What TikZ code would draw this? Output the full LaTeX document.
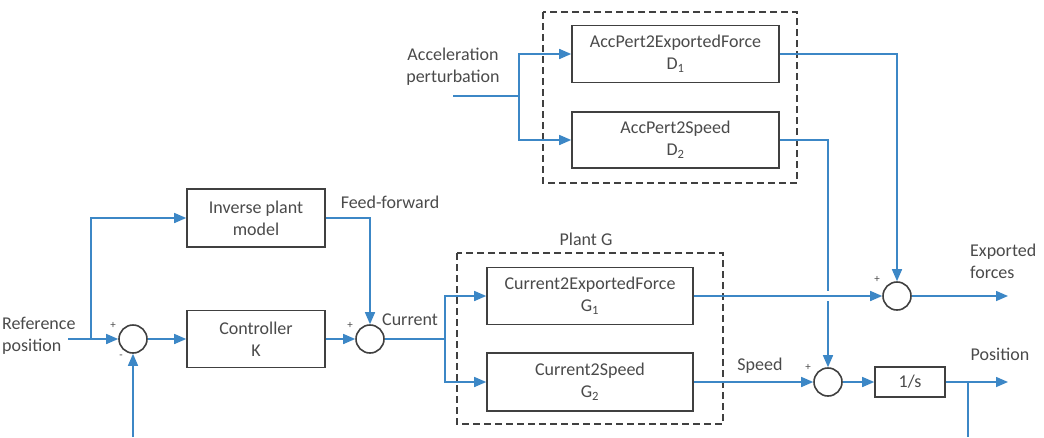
\documentclass[tikz,border=0pt]{standalone}
\usepackage{fontspec}
\setmainfont{Carlito}
\usetikzlibrary{arrows.meta,positioning,calc}
\definecolor{lblue}{HTML}{3C87C6}
\definecolor{bgray}{HTML}{404040}
\definecolor{tgray}{HTML}{4A4A4A}
\begin{document}
\begin{tikzpicture}[x=1pt,y=-1pt,
  txt/.style={text=tgray,font=\fontsize{18}{22}\selectfont,inner sep=0pt,align=center},
  sgn/.style={text=tgray,font=\fontsize{11}{12}\selectfont,inner sep=0pt},
  blk/.style={draw=bgray,line width=1.6pt,fill=white,inner sep=0pt,align=center,text=tgray,font=\fontsize{18}{22}\selectfont},
  sumc/.style={draw=bgray,line width=1.6pt,circle,minimum size=28pt,inner sep=0pt},
  grp/.style={draw=bgray,line width=1.6pt,dash pattern=on 7pt off 4pt},
  sig/.style={draw=lblue,line width=1.5pt,-{Triangle[length=12pt,width=10pt]}},
  wire/.style={draw=lblue,line width=1.5pt},
]
\useasboundingbox (0,0) rectangle (1044,437);
% group boxes
\draw[grp] (543,12) rectangle (797,183);
\draw[grp] (457,253) rectangle (723,424);
\node[txt] (plantlbl) at (586,239) {Plant G};
% blocks
\node[blk,minimum width=138pt,minimum height=58pt] (inv) at (256,218) {Inverse plant\\model};
\node[blk,minimum width=138pt,minimum height=57pt] (ctrl) at (256,339) {Controller\\K};
\node[blk,minimum width=206pt,minimum height=57pt] (g1) at (590,296) {Current2ExportedForce\\G\textsubscript{1}};
\node[blk,minimum width=206pt,minimum height=58pt] (g2) at (590,382) {Current2Speed\\G\textsubscript{2}};
\node[blk,minimum width=207pt,minimum height=57pt] (d1) at (675.5,54) {AccPert2ExportedForce\\D\textsubscript{1}};
\node[blk,minimum width=207pt,minimum height=56pt] (d2) at (675.5,140) {AccPert2Speed\\D\textsubscript{2}};
\node[blk,minimum width=70pt,minimum height=30pt] (int) at (910,382) {1/s};
% sums
\node[sumc] (s1) at (133,339) {};
\node[sumc] (s2) at (370,339) {};
\node[sumc] (s3) at (897,296) {};
\node[sumc] (s4) at (828,382) {};
% coordinates
\coordinate (refin) at (68,339);
\coordinate (br1) at (91,339);
\coordinate (br2) at (445,339);
\coordinate (accin) at (453,96);
\coordinate (br3) at (519,96);
\coordinate (out1) at (1008,296);
\coordinate (out2) at (1008,382);
\coordinate (br4) at (968,382);
\coordinate (fb4) at (968,437);
\coordinate (fb1) at (133,437);
% labels
\node[txt,anchor=west,align=left] (reflbl) at (2,336) {Reference\\position};
\node[txt] (fflbl) at (390,202) {Feed-forward};
\node[txt] (curlbl) at (410,320) {Current};
\node[txt] (acclbl) at (453,66.5) {Acceleration\\perturbation};
\node[txt,anchor=west,align=left] (explbl) at (970,261) {Exported\\forces};
\node[txt] (spdlbl) at (760,366) {Speed};
\node[txt] (poslbl) at (1000,354) {Position};
\node[sgn] (p1) at (113,325) {+};
\node[sgn] (m1) at (121,357) {-};
\node[sgn] (p2) at (350,325) {+};
\node[sgn] (p3) at (877,279) {+};
\node[sgn] (p4) at (808,367) {+};
% connectors
\draw[sig] (refin) -- (s1.west);
\draw[sig] (br1) |- (inv.west);
\draw[sig] (fb1) -- (s1.south);
\draw[sig] (s1.east) -- (ctrl.west);
\draw[sig] (ctrl.east) -- (s2.west);
\draw[sig] (inv.east) -| (s2.north);
\draw[wire] (s2.east) -- (br2);
\draw[sig] (br2) |- (g1.west);
\draw[sig] (br2) |- (g2.west);
\draw[wire] (accin) -- (br3);
\draw[sig] (br3) |- (d1.west);
\draw[sig] (br3) |- (d2.west);
\draw[sig] (d1.east) -| (s3.north);
\draw[sig] (d2.east) -| (s4.north);
\fill[white] (824,291) rectangle (832,301);
\draw[sig] (g1.east) -- (s3.west);
\draw[sig] (s3.east) -- (out1);
\draw[sig] (g2.east) -- (s4.west);
\draw[sig] (s4.east) -- (int.west);
\draw[sig] (int.east) -- (out2);
\draw[wire] (br4) -- (fb4);
\end{tikzpicture}
\end{document}
